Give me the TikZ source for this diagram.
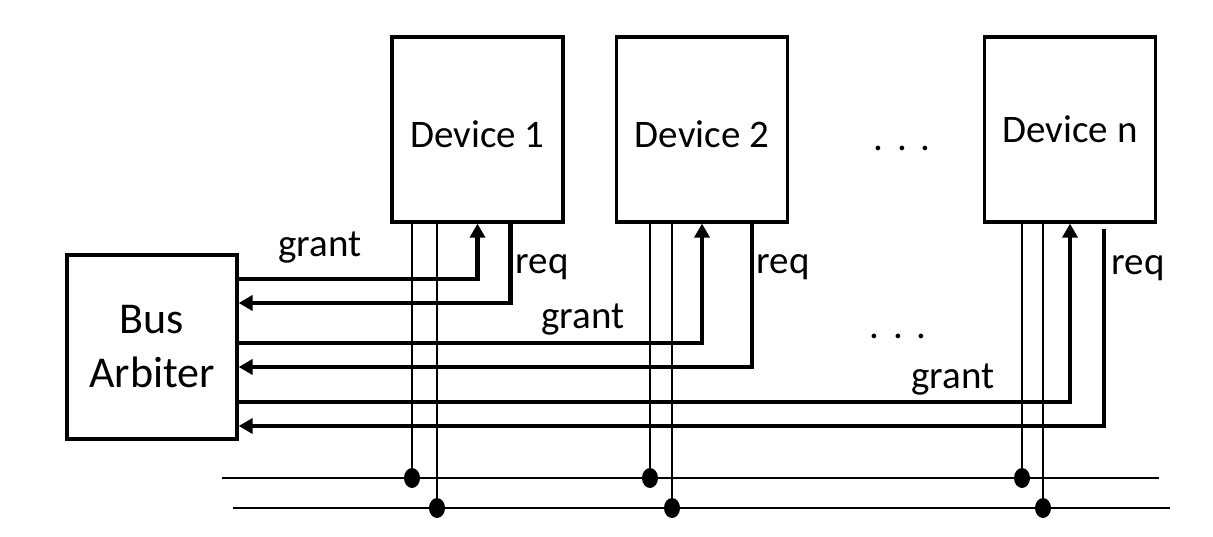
\documentclass[tikz,border=0pt]{standalone}
\usepackage{fontspec}
\setmainfont{Carlito}
\usetikzlibrary{arrows.meta,shapes.geometric}

\begin{document}
\begin{tikzpicture}[
  x=1pt, y=-1pt,
  every node/.style={font=\fontsize{39}{47}\selectfont},
  box/.style={draw, line width=3.2pt, minimum width=171pt, minimum height=185pt, inner sep=0pt, align=center},
  sig/.style={line width=4.6pt, -{Triangle[width=15pt,length=14pt]}},
  wire/.style={line width=2.6pt},
  tap/.style={ellipse, fill=black, minimum width=16pt, minimum height=20pt, inner sep=0pt}
]
  \useasboundingbox (0,0) rectangle (1213,537);

  % boxes
  \node[box, minimum width=170pt, minimum height=184pt, font=\fontsize{44}{54}\selectfont] (arb) at (152,347) {Bus\\Arbiter};
  \node[box, text height=37pt, text depth=0pt] (dev1) at (477.5,129.5) {Device 1};
  \node[box, text height=37pt, text depth=0pt] (dev2) at (702,129.5) {Device 2};
  \node[box] (devn) at (1070,129.5) {Device n};

  % bus lines
  \coordinate (busA-w) at (222,478);
  \coordinate (busA-e) at (1159,478);
  \coordinate (busB-w) at (233,508);
  \coordinate (busB-e) at (1170,508);
  \draw[wire] (busA-w) -- (busA-e);
  \draw[wire] (busB-w) -- (busB-e);

  % taps
  \node[tap] (tap1a) at (412,478) {};
  \node[tap] (tap1b) at (437,508) {};
  \node[tap] (tap2a) at (650,478) {};
  \node[tap] (tap2b) at (672,508) {};
  \node[tap] (tapna) at (1022,478) {};
  \node[tap] (tapnb) at (1043,508) {};
  \draw[wire] (tap1a) -- (tap1a |- dev1.south);
  \draw[wire] (tap1b) -- (tap1b |- dev1.south);
  \draw[wire] (tap2a) -- (tap2a |- dev2.south);
  \draw[wire] (tap2b) -- (tap2b |- dev2.south);
  \draw[wire] (tapna) -- (tapna |- devn.south);
  \draw[wire] (tapnb) -- (tapnb |- devn.south);

  % grant and req
  \draw[sig] (arb.east |- 0,279) -| (dev1.south);
  \draw[sig] ([xshift=33pt]dev1.south) |- (arb.east |- 0,303);
  \draw[sig] (arb.east |- 0,343) -| (dev2.south);
  \draw[sig] ([xshift=50pt]dev2.south) |- (arb.east |- 0,367);
  \draw[sig] (arb.east |- 0,402) -| (devn.south);
  \draw[sig] ([xshift=34pt, yshift=-5pt]devn.south) |- (arb.east |- 0,426);

  % labels
  \node[anchor=base] (grant1) at (320,257) {grant};
  \node[anchor=base] (req1) at (542,274) {req};
  \node[anchor=base] (grant2) at (583,329) {grant};
  \node[anchor=base] (req2) at (783,274) {req};
  \node[anchor=base] (grantn) at (953,388) {grant};
  \node[anchor=base] (reqn) at (1138,275) {req};
  \node[anchor=base] (dots1) at (902,151) {.\hspace{0.36em}.\hspace{0.36em}.};
  \node[anchor=base] (dots2) at (898,338) {.\hspace{0.36em}.\hspace{0.36em}.};
\end{tikzpicture}
\end{document}
